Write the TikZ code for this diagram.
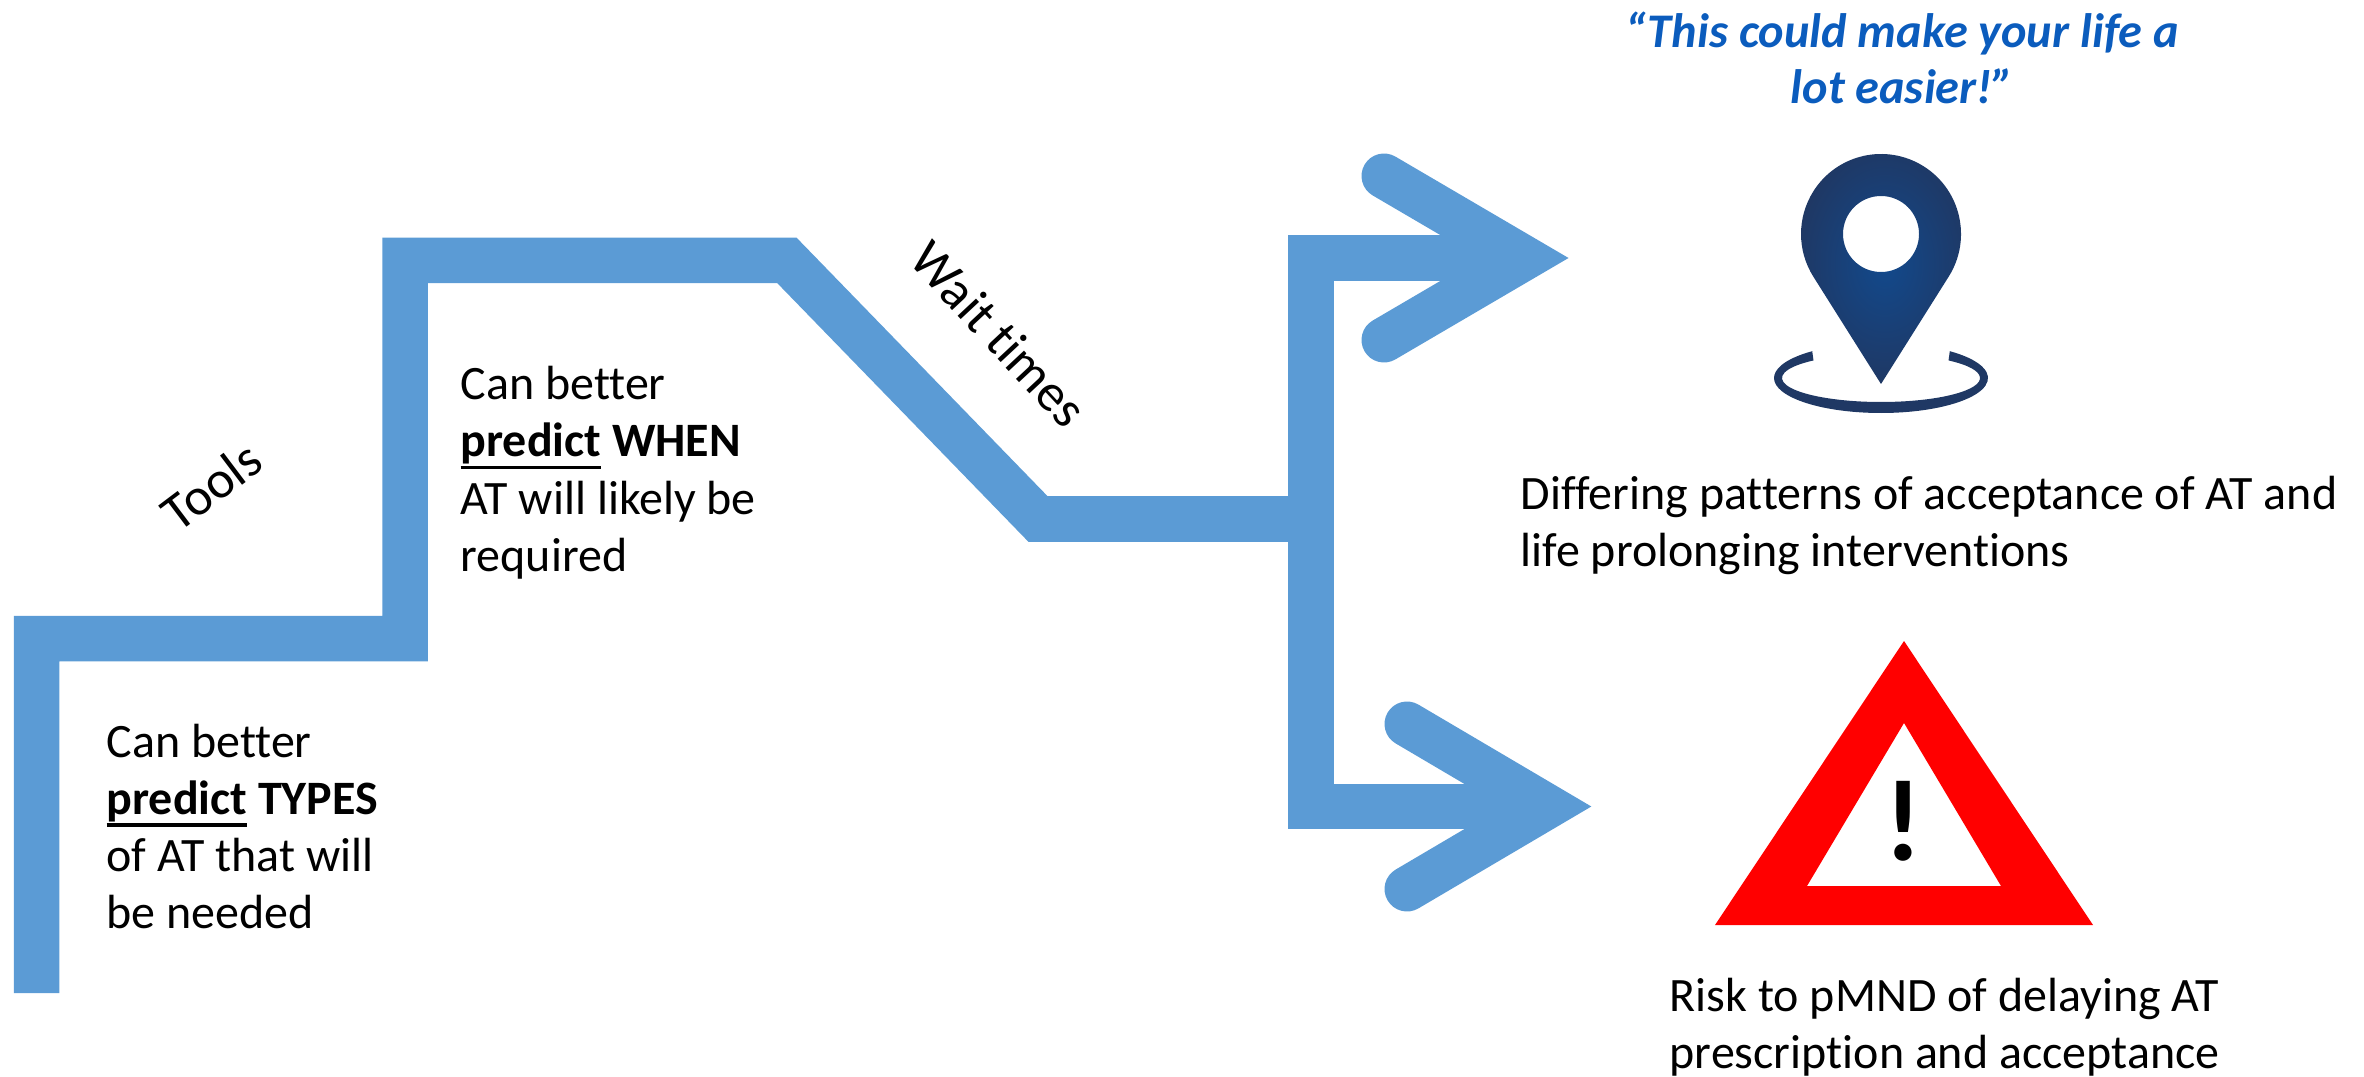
\documentclass[tikz,border=0pt]{standalone}
\usepackage{fontspec}
\setmainfont{Carlito}[Ligatures={TeX,NoCommon}]
\usepackage{tikz}
\usetikzlibrary{calc}
\newcommand{\ulbold}[1]{\setbox0\hbox{\textbf{#1}}\rlap{\rule[-3.5pt]{\wd0}{0.9pt}}\box0\relax}
\definecolor{stairblue}{HTML}{5B9BD5}
\definecolor{quoteblue}{HTML}{0B5CBD}
\definecolor{pindark}{HTML}{1F3864}
\definecolor{pinlight}{HTML}{12498C}
\tikzset{
  stairline/.style={stairblue, line width=0.455cm, miter limit=10},
  headline/.style={stairblue, line width=0.45cm, line cap=round, miter limit=10},
  bodytext/.style={inner sep=0pt, align=left, font=\fontsize{13.65}{16.3}\selectfont},
  tiltedtext/.style={inner sep=0pt, font=\fontsize{15}{18}\selectfont},
}
\begin{document}
\begin{tikzpicture}
\useasboundingbox (0,0) rectangle (23.64,10.76);
% stairs
\coordinate (s0) at (0.365,0.83);
\coordinate (s1) at (0.365,4.375);
\coordinate (s2) at (4.05,4.375);
\coordinate (s3) at (4.05,8.155);
\coordinate (s4) at (7.87,8.155);
\coordinate (s5) at (10.38,5.57);
\coordinate (s6) at (13.11,5.57);
\draw[stairline] (s0) -- (s1) -- (s2) -- (s3) -- (s4) -- (s5) -- (s6);
% fork
\coordinate (upvertex) at (15.24,8.18);
\coordinate (upcorner) at (13.11,8.18);
\coordinate (downcorner) at (13.11,2.695);
\coordinate (downvertex) at (15.47,2.695);
\draw[stairline] (upvertex) -- (upcorner) -- (downcorner) -- (downvertex);
\coordinate (upend1) at (13.84,9.00);
\coordinate (upend2) at (13.84,7.36);
\coordinate (downend1) at (14.07,3.52);
\coordinate (downend2) at (14.07,1.87);
\draw[headline] (upend1) -- (upvertex) -- (upend2);
\draw[headline] (downend1) -- (downvertex) -- (downend2);
% pin
\coordinate (pincenter) at (18.81,8.42);
\coordinate (pintip) at (18.81,6.92);
\coordinate (ringcenter) at (18.81,6.98);
\shade[even odd rule, inner color=pinlight, outer color=pindark]
  (pintip) -- ($(pincenter)+(-32.2:0.8)$) arc[start angle=-32.2, end angle=212.2, radius=0.8] -- cycle
  (pincenter) circle (0.38);
\fill[pindark] ($(ringcenter)+(130:1.07 and 0.35)$) arc[start angle=130, end angle=410, x radius=1.07, y radius=0.35]
  -- ($(ringcenter)+(47:0.99 and 0.24)$) arc[start angle=47, end angle=-227, x radius=0.99, y radius=0.24] -- cycle;
% warning sign
\fill[red, even odd rule] (17.15,1.51) -- (19.04,4.35) -- (20.93,1.51) -- cycle
  (18.07,1.90) -- (19.04,3.53) -- (20.01,1.90) -- cycle;
\node[inner sep=0pt, font=\fontsize{33}{33}\bfseries\selectfont] (bang) at (19.03,2.55) {!};
% labels
\node[tiltedtext, rotate=37] (tools) at (2.11,5.90) {Tools};
\node[tiltedtext, rotate=-47] (waittimes) at (9.99,7.42) {Wait times};
\node[bodytext, anchor=north west] (typesnote) at (1.06,3.53) {Can better\\\ulbold{predict} \textbf{TYPES}\\of AT that will\\be needed};
\node[bodytext, anchor=north west] (whennote) at (4.60,7.105) {Can better\\\ulbold{predict} \textbf{WHEN}\\AT will likely be\\required};
\node[bodytext, anchor=north west] (pinnote) at (15.20,6.01) {Differing patterns of acceptance of AT and\\life prolonging interventions};
\node[bodytext, anchor=north west] (warnnote) at (16.69,0.985) {Risk to pMND of delaying AT\\prescription and acceptance};
\node[inner sep=0pt, align=center, text=quoteblue, font=\fontsize{13.75}{16}\bfseries\itshape\selectfont] (quote) at (19.02,10.18) {``This could make your life a\\lot easier!''};
\end{tikzpicture}
\end{document}
